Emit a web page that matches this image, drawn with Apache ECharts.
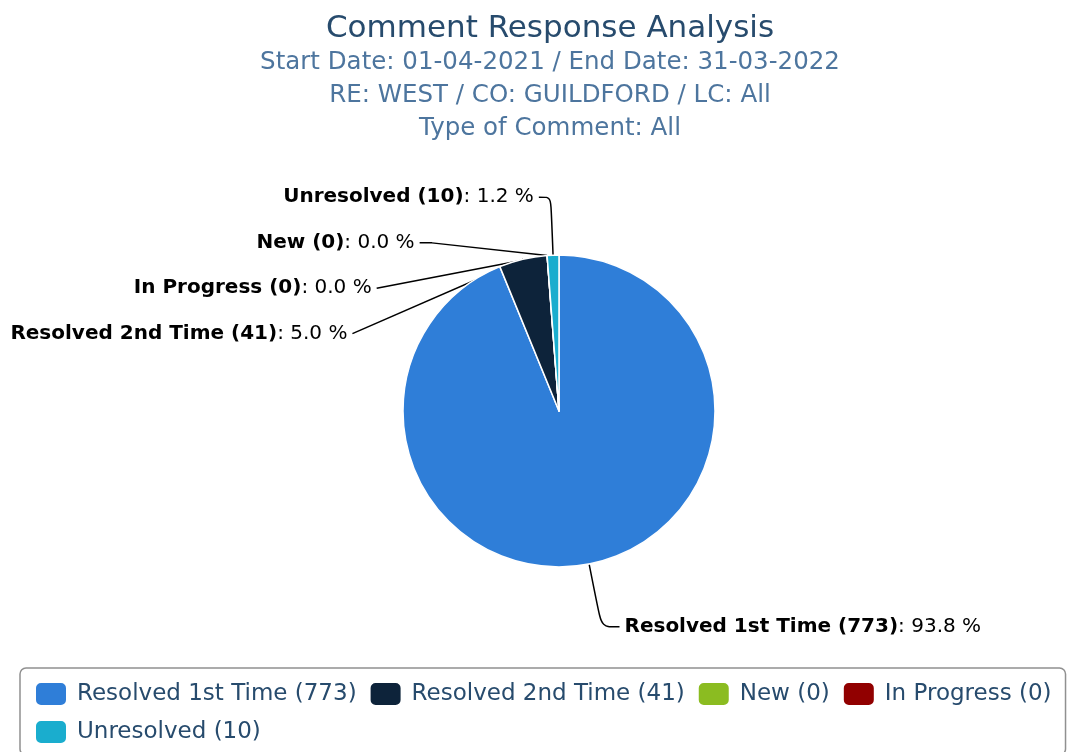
<!DOCTYPE html>
<html>
<head>
<meta charset="utf-8">
<script src="https://cdn.jsdelivr.net/npm/echarts@6/dist/echarts.min.js"></script>
<style>
  html, body { margin: 0; padding: 0; background: #fff; }
  #chart { width: 1078px; height: 752px; }
</style>
</head>
<body>
<div id="chart"></div>
<script>
// categories and counts
var categories = ['Resolved 1st Time', 'Resolved 2nd Time', 'New', 'In Progress', 'Unresolved'];
var counts = [773, 41, 0, 0, 10];
var colors = ['#2f7ed8', '#0d233a', '#8bbc21', '#910000', '#1aadce'];

var titleText = 'Comment Response Analysis';
var subLines = [
  'Start Date: 01-04-2021 / End Date: 31-03-2022',
  'RE: WEST / CO: GUILDFORD / LC: All',
  'Type of Comment: All'
];

var total = counts.reduce(function (a, b) { return a + b; }, 0);
var pieData = categories.map(function (c, i) {
  var item = { name: c + ' (' + counts[i] + ')', value: counts[i], itemStyle: { color: colors[i] } };
  // the big slice has its label below the pie
  if (i === 0) {
    item.labelLine = { length: 64, length2: 18 };
  }
  return item;
});

var chart = echarts.init(document.getElementById('chart'));
chart.setOption({
  backgroundColor: '#fff',
  animation: false,
  title: {
    text: titleText,
    subtext: subLines.join('\n'),
    left: 545,
    textAlign: 'center',
    top: 8,
    itemGap: 2,
    textStyle: { fontFamily: 'DejaVu Sans', fontSize: 31, fontWeight: 'normal', color: '#274b6d' },
    subtextStyle: { fontFamily: 'DejaVu Sans', fontSize: 24.5, color: '#4d759e', lineHeight: 33 }
  },
  legend: {
    left: 20,
    top: 668,
    width: 1080,
    padding: [13, 14, 10, 14],
    borderColor: '#909090',
    borderWidth: 1.5,
    borderRadius: 6,
    itemWidth: 32,
    itemHeight: 24,
    itemGap: 12,
    icon: 'roundRect',
    formatter: function (name) {
      return '{t|' + name + '}';
    },
    textStyle: {
      fontFamily: 'DejaVu Sans',
      fontSize: 23,
      color: '#274b6d',
      padding: [0, 0, 0, 5],
      rich: {
        t: { fontFamily: 'DejaVu Sans', fontSize: 23, color: '#274b6d', padding: [0, 11, 0, 0] }
      }
    },
    data: pieData.map(function (d) { return d.name; })
  },
  series: [{
    type: 'pie',
    center: [559, 411],
    radius: 156,
    startAngle: 90,
    clockwise: true,
    avoidLabelOverlap: true,
    stillShowZeroSum: true,
    data: pieData,
    itemStyle: { borderColor: '#fff', borderWidth: 1.5 },
    label: {
      show: true,
      overflow: 'none',
      edgeDistance: 5,
      fontFamily: 'DejaVu Sans',
      fontSize: 20,
      lineHeight: 43.5,
      color: '#000',
      formatter: function (p) {
        return '{b|' + p.name + '}: ' + (p.value / total * 100).toFixed(1) + ' %';
      },
      rich: {
        b: { fontFamily: 'DejaVu Sans', fontSize: 20, lineHeight: 43.5, fontWeight: 'bold', color: '#000' }
      }
    },
    labelLine: {
      show: true,
      length: 58,
      length2: 12,
      smooth: 0.3,
      lineStyle: { color: '#000', width: 1.5 }
    },
    emphasis: { disabled: true }
  }]
});
</script>
</body>
</html>
